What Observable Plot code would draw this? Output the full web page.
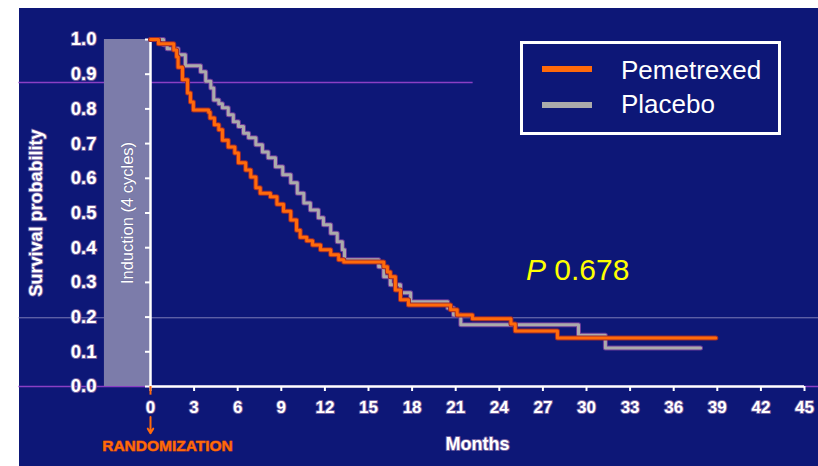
<!DOCTYPE html>
<html>
<head>
<meta charset="utf-8">
<script src="https://cdn.jsdelivr.net/npm/d3@7"></script>
<script src="https://cdn.jsdelivr.net/npm/@observablehq/plot@0.6"></script>
<style>
  html, body { margin: 0; padding: 0; background: #ffffff; }
  #wrap { position: relative; width: 818px; height: 466px; overflow: hidden;
          background: linear-gradient(#0d1777, #0d1777) 19px 8px / 799px 458px no-repeat, #ffffff;
          font-family: "Liberation Sans", Arial, sans-serif; }
  #wrap svg { position: absolute; left: 0; top: 0; }
  .legend-box { position: absolute; left: 520px; top: 41px; width: 255px; height: 88px;
                border: 3px solid #ffffff; box-sizing: content-box; }
  .leg-line { position: absolute; left: 542px; width: 50px; height: 6px; }
  .leg-text { position: absolute; left: 621px; font-size: 26px; line-height: 26px; color: #ffffff; white-space: nowrap; }
  .pval { position: absolute; left: 526px; top: 255px; font-size: 30px; line-height: 30px; color: #ffff00; white-space: nowrap; }
</style>
</head>
<body>
<div id="wrap"></div>
<script>
// ---- data ----
const xTicks = [0, 3, 6, 9, 12, 15, 18, 21, 24, 27, 30, 33, 36, 39, 42, 45];
const yTicks = [0, 0.1, 0.2, 0.3, 0.4, 0.5, 0.6, 0.7, 0.8, 0.9, 1.0];
const yTickLabels = ["0.0", "0.1", "0.2", "0.3", "0.4", "0.5", "0.6", "0.7", "0.8", "0.9", "1.0"];

const seriesNames = ["Pemetrexed", "Placebo"];

const pemTime = [0,0.55,1.6,1.8,1.9,2.2,2.55,2.75,2.95,4.0,4.1,4.4,4.7,4.95,5.35,5.8,6.05,6.55,6.9,7.25,7.55,8.25,8.7,9.15,9.65,10.05,10.3,10.75,11.15,11.7,12.4,12.95,13.3,16.05,16.3,16.5,16.85,17.2,17.75,20.65,21.1,22.15,24.8,25.1,28.0,38.9];
const pemSurv = [1.0,0.988,0.97,0.95,0.92,0.884,0.846,0.82,0.797,0.79,0.774,0.754,0.74,0.71,0.69,0.673,0.645,0.624,0.604,0.573,0.557,0.547,0.525,0.505,0.48,0.45,0.43,0.42,0.408,0.394,0.38,0.365,0.359,0.345,0.33,0.316,0.278,0.25,0.235,0.221,0.206,0.195,0.18,0.16,0.14,0.14];

const plaTime = [0,0.9,1.15,1.9,2.4,3.45,3.8,4.15,4.35,4.7,4.95,5.35,5.7,6.05,6.4,6.75,7.25,7.7,8.1,8.6,9.1,9.65,10.1,10.55,11.0,11.55,11.9,12.4,12.85,13.2,13.35,15.7,16.05,16.5,17.2,17.9,20.45,20.85,21.35,29.45,31.3,37.85];
const plaSurv = [1.0,0.985,0.973,0.956,0.924,0.907,0.88,0.86,0.826,0.815,0.803,0.783,0.763,0.749,0.73,0.717,0.697,0.676,0.659,0.633,0.61,0.587,0.557,0.529,0.509,0.486,0.466,0.442,0.417,0.394,0.365,0.345,0.316,0.293,0.27,0.244,0.226,0.206,0.178,0.148,0.111,0.111];

const induction = [-3.17, 0];   // months before randomization (4 cycles)
const pValue = "0.678";

// ---- build tables ----
const pem = pemTime.map((t, i) => ({t, s: pemSurv[i]}));
const pla = plaTime.map((t, i) => ({t, s: plaSurv[i]}));

const ORANGE = "#ff6a0a";
const GRAY = "#ababab";
const HALO = "#6c5c9e";
const FONT = "'Liberation Sans', Arial, sans-serif";

const chart = Plot.plot({
  width: 818,
  height: 466,
  marginLeft: 150,
  marginRight: 14,
  marginTop: 39,
  marginBottom: 80,
  x: {domain: [0, 45], axis: null},
  y: {domain: [0, 1], axis: null},
  style: {background: "transparent", color: "white", fontFamily: FONT, overflow: "visible"},
  marks: [
    // slide artefact lines
    Plot.ruleY([0.876], {x1: -9.05, x2: 22.2, stroke: "#8a3fc4", strokeWidth: 1.5}),
    Plot.ruleY([0.198], {x1: -9.05, x2: 46, stroke: "#7d7db8", strokeWidth: 1}),
    Plot.ruleY([0], {x1: -9.05, x2: 46, stroke: "#8a3fc4", strokeWidth: 1.5}),
    // induction box
    Plot.rect([induction], {x1: d => d[0], x2: d => d[1], y1: 0, y2: 1, fill: "#7c7caa"}),
    Plot.text(["Induction (4 cycles)"], {x: (induction[0] + induction[1]) / 2, y: 0.5, rotate: -90,
      fill: "white", fontSize: 16.5, stroke: "#6a6a98", strokeWidth: 1}),
    // axes lines
    Plot.ruleX([0], {y1: 0, y2: 1, stroke: "white", strokeWidth: 2.5}),
    Plot.ruleY([0], {x1: 0, x2: 45, stroke: "white", strokeWidth: 2.5}),
    Plot.axisX({ticks: xTicks, tickSize: 5, tickFormat: () => "", label: null, stroke: "white", strokeWidth: 2}),
    Plot.axisY({ticks: yTicks, tickSize: 5, tickFormat: () => "", label: null, stroke: "white", strokeWidth: 2}),
    // tick labels
    Plot.text(xTicks, {x: d => d, y: 0, dy: 21, text: d => String(d), fill: "white", stroke: HALO, strokeWidth: 2,
      fontSize: 17, fontWeight: "bold", lineAnchor: "middle"}),
    Plot.text(yTicks, {x: 0, y: d => d, dx: -54, text: (d, i) => yTickLabels[i], textAnchor: "end", fill: "white",
      stroke: HALO, strokeWidth: 2, fontSize: 18.5, fontWeight: "bold"}),
    // axis titles
    Plot.text(["Months"], {frameAnchor: "bottom", dy: 58, fill: "white", stroke: HALO, strokeWidth: 2,
      fontSize: 18, fontWeight: "bold", lineAnchor: "middle", textAnchor: "middle"}),
    Plot.text(["Survival probability"], {frameAnchor: "left", dx: -114, rotate: -90, fill: "white", stroke: HALO,
      strokeWidth: 2, fontSize: 18, fontWeight: "bold", textAnchor: "middle", lineAnchor: "middle"}),
    // randomization marker
    Plot.ruleX([0], {y1: 0, y2: -0.025, stroke: ORANGE, strokeWidth: 2}),
    Plot.arrow([0], {x1: 0, x2: 0, y1: -0.088, y2: -0.135, stroke: ORANGE, strokeWidth: 2, headLength: 6}),
    Plot.text(["RANDOMIZATION"], {x: 0, y: 0, dx: 17, dy: 60, fill: ORANGE, stroke: "#a83a1a", strokeWidth: 1,
      fontSize: 15.5, fontWeight: "bold", lineAnchor: "middle"}),
    // survival curves
    Plot.line(pla, {x: "t", y: "s", curve: "step-after", stroke: "#6a3a9a", strokeWidth: 5}),
    Plot.line(pla, {x: "t", y: "s", curve: "step-after", stroke: GRAY, strokeWidth: 3}),
    Plot.line(pem, {x: "t", y: "s", curve: "step-after", stroke: "#9a2a30", strokeWidth: 5}),
    Plot.line(pem, {x: "t", y: "s", curve: "step-after", stroke: ORANGE, strokeWidth: 3})
  ]
});

const wrap = document.getElementById("wrap");
wrap.appendChild(chart);

// legend (HTML overlay)
const box = document.createElement("div");
box.className = "legend-box";
wrap.appendChild(box);
const legendColors = [ORANGE, GRAY];
const legendTops = [66, 102];
const textTops = [57, 91];
seriesNames.forEach((name, i) => {
  const ln = document.createElement("div");
  ln.className = "leg-line";
  ln.style.top = legendTops[i] + "px";
  ln.style.background = legendColors[i];
  wrap.appendChild(ln);
  const tx = document.createElement("div");
  tx.className = "leg-text";
  tx.style.top = textTops[i] + "px";
  tx.textContent = name;
  wrap.appendChild(tx);
});

// p-value annotation
const pv = document.createElement("div");
pv.className = "pval";
pv.innerHTML = "<i>P</i> " + pValue;
wrap.appendChild(pv);
</script>
</body>
</html>
